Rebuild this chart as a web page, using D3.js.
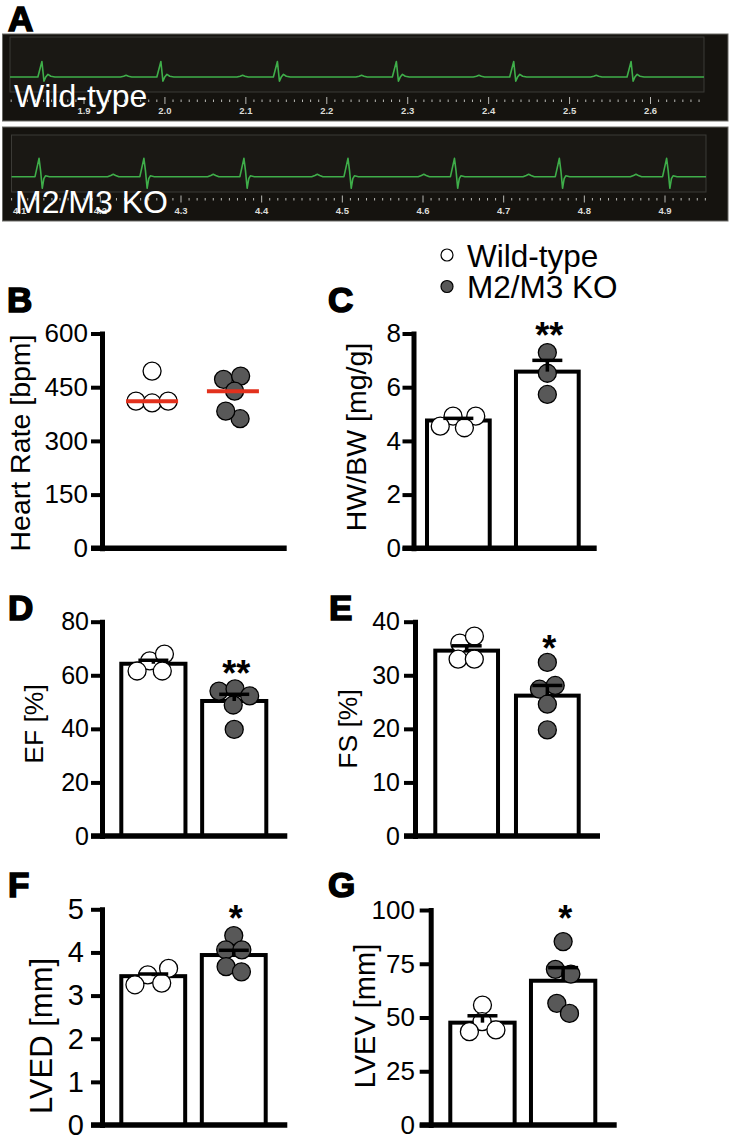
<!DOCTYPE html>
<html>
<head>
<meta charset="utf-8">
<script src="https://cdn.jsdelivr.net/npm/d3@7"></script>
<style>
body { margin: 0; background: #fff; }
svg { display: block; font-family: "Liberation Sans", Arial, Helvetica, sans-serif; }
</style>
</head>
<body>
<svg id="fig" width="731" height="1135"></svg>
<script>
// groups
var groups = ["Wild-type", "M2/M3 KO"];

// A: ECG traces, R-peak times (s)
var ecgBeatsWT = [1.848, 1.995, 2.139, 2.286, 2.431, 2.576];
var ecgBeatsKO = [4.124, 4.254, 4.378, 4.507, 4.639, 4.769, 4.902];
var ecgLabelsWT = ["1.9", "2.0", "2.1", "2.2", "2.3", "2.4", "2.5", "2.6"];
var ecgLabelsKO = ["4.1", "4.2", "4.3", "4.4", "4.5", "4.6", "4.7", "4.8", "4.9"];
// one beat: [time offset from R (s), amplitude relative to R]
var beatShapeWT = [[-0.050, 0], [-0.046, 0.05], [-0.043, 0.11], [-0.040, 0.05], [-0.036, 0],
  [-0.005, 0], [0, 1], [0.0025, -0.27], [0.005, 0.02], [0.0075, 0.17], [0.011, 0.05], [0.016, 0]];
var beatShapeKO = [[-0.045, 0], [-0.041, 0.07], [-0.038, 0.13], [-0.035, 0.07], [-0.031, 0],
  [-0.005, 0], [0, 1], [0.002, 0.3], [0.004, -0.63], [0.006, -0.1], [0.008, 0.05], [0.013, 0]];

// B: heart rate
var hrWT = [495, 411, 406, 411];
var hrKO = [472, 481, 439, 362, 383];
var hrTicks = [0, 150, 300, 450, 600];

// C: HW/BW
var hwbwWT = [4.92, 4.92, 4.49, 4.55];
var hwbwKO = [7.29, 6.52, 5.73];
var hwbwMean = [4.76, 6.58];
var hwbwSem = [0.08, 0.42];
var hwbwTicks = [0, 2, 4, 6, 8];

// D: EF
var efWT = [65.4, 67.9, 61.6, 61.6];
var efKO = [54.1, 54.9, 52.3, 48.9, 39.8];
var efMean = [64.3, 50.4];
var efSem = [1.3, 2.5];
var efTicks = [0, 20, 40, 60, 80];

// E: FS
var fsWT = [36.0, 37.3, 33.0, 33.0];
var fsKO = [32.4, 27.4, 28.1, 24.6, 19.8];
var fsMean = [34.6, 26.2];
var fsSem = [0.9, 1.9];
var fsTicks = [0, 10, 20, 30, 40];

// F: LVED
var lvedWT = [3.48, 3.63, 3.25, 3.29];
var lvedKO = [4.39, 4.06, 4.06, 3.67, 3.55];
var lvedMean = [3.45, 3.94];
var lvedSem = [0.05, 0.11];
var lvedTicks = [0, 1, 2, 3, 4, 5];

// G: LVEV
var lvevWT = [55.8, 48.1, 44.2, 43.4];
var lvevKO = [85.3, 72.4, 70.2, 56.6, 51.9];
var lvevMean = [47.6, 67.1];
var lvevSem = [3.2, 6.1];
var lvevTicks = [0, 25, 50, 75, 100];

var svg = d3.select("#fig");
var fillCol = ["#ffffff", "#585858"];
var ptR = 9;

// ---------- ECG strips ----------
function drawEcg(o) {
  var g = svg.append("g");
  g.append("rect")
    .attr("x", o.box[0]).attr("y", o.box[1])
    .attr("width", o.box[2] - o.box[0]).attr("height", o.box[3] - o.box[1])
    .attr("fill", "#15130f").attr("stroke", "#6a6a66").attr("stroke-width", 1);
  g.append("rect")
    .attr("x", o.inner[0]).attr("y", o.inner[1])
    .attr("width", o.inner[2] - o.inner[0]).attr("height", o.inner[3] - o.inner[1])
    .attr("fill", "#1a1814").attr("stroke", "#3b3a36").attr("stroke-width", 1);

  var x = d3.scaleLinear().domain(o.tRef).range(o.xRef);
  var y = d3.scaleLinear().domain([0, 1]).range([o.base, o.peak]);
  var t0 = x.invert(o.inner[0]), t1 = x.invert(o.inner[2]);

  var pts = [[t0, 0]];
  o.beats.forEach(function(b) {
    o.shape.forEach(function(s) { pts.push([b + s[0], s[1]]); });
  });
  pts.push([t1, 0]);
  pts = pts.filter(function(p) { return p[0] >= t0 && p[0] <= t1; })
    .sort(function(a, b) { return a[0] - b[0]; });

  g.append("path").datum(pts)
    .attr("d", d3.line().x(function(d) { return x(d[0]); }).y(function(d) { return y(d[1]); }))
    .attr("fill", "none").attr("stroke", "#3fae4a")
    .attr("stroke-width", 1.6).attr("stroke-linejoin", "round");

  // time axis ticks every 10 ms
  var ks = d3.range(Math.ceil(t0 * 100), Math.floor(t1 * 100) + 1);
  g.selectAll(".tk").data(ks).enter().append("line")
    .attr("x1", function(k) { return x(k / 100); })
    .attr("x2", function(k) { return x(k / 100); })
    .attr("y1", function(k) { return k % 10 === 0 ? o.tickY - 3.5 : o.tickY - 1; })
    .attr("y2", function(k) { return k % 10 === 0 ? o.tickY + 3.5 : o.tickY + 1.5; })
    .attr("stroke", "#b8b8b4").attr("stroke-width", 1);

  g.selectAll(".tl").data(o.labels).enter().append("text")
    .attr("x", function(d) { return x(+d); })
    .attr("y", o.labY)
    .attr("text-anchor", "middle")
    .attr("font-size", 9.5).attr("font-weight", "bold")
    .attr("fill", "#dcdcd8")
    .text(function(d) { return d; });

  g.append("text")
    .attr("x", o.nameX).attr("y", o.nameY)
    .attr("font-size", 32).attr("fill", "#fff")
    .text(o.name);
}

drawEcg({box: [2.5, 34, 728, 121], inner: [10, 37, 704, 92],
  tRef: [1.9, 2.6], xRef: [84, 650.5], base: 77, peak: 61.5,
  beats: ecgBeatsWT, shape: beatShapeWT, tickY: 100.5, labY: 113.5,
  labels: ecgLabelsWT, name: groups[0], nameX: 14, nameY: 107});

drawEcg({box: [2.5, 127, 728, 221], inner: [11.5, 135, 706, 192],
  tRef: [4.3, 4.9], xRef: [181, 665], base: 176.7, peak: 158.3,
  beats: ecgBeatsKO, shape: beatShapeKO, tickY: 199, labY: 213.5,
  labels: ecgLabelsKO, name: groups[1], nameX: 15, nameY: 213});

// ---------- dot / bar panels ----------
function dodge(vals, cx, y) {
  var nodes = vals.map(function(v) { return {v: v, x: cx, y: y(v), fy: y(v)}; });
  var sim = d3.forceSimulation(nodes)
    .force("x", d3.forceX(cx).strength(0.06))
    .force("collide", d3.forceCollide(ptR * 0.9))
    .stop();
  for (var i = 0; i < 300; i++) sim.tick();
  return nodes;
}

function drawPanel(p) {
  var g = svg.append("g");
  var y = d3.scaleLinear().domain([0, d3.max(p.ticks)]).range([p.bot, p.top]);
  var x = d3.scaleBand().domain(groups).range(p.band).paddingInner(p.pad).paddingOuter(0);
  var bw = x.bandwidth();

  // bars
  if (p.mean) {
    g.selectAll(".bar").data(groups).enter().append("rect")
      .attr("x", function(d) { return x(d) + 2; })
      .attr("width", bw - 4)
      .attr("y", function(d, i) { return y(p.mean[i]); })
      .attr("height", function(d, i) { return p.bot - y(p.mean[i]); })
      .attr("fill", "#fff").attr("stroke", "#000").attr("stroke-width", 4);
  }

  // points
  p.vals.forEach(function(vals, gi) {
    var cx = x(groups[gi]) + bw / 2;
    var nodes = dodge(vals, cx, y);
    g.selectAll(".pt" + gi).data(nodes).enter().append("circle")
      .attr("cx", function(d) { return d.x; })
      .attr("cy", function(d) { return d.y; })
      .attr("r", ptR)
      .attr("fill", fillCol[gi]).attr("stroke", "#000").attr("stroke-width", 1.3);
    if (p.median) {
      var m = d3.median(vals);
      g.append("line")
        .attr("x1", cx - 26).attr("x2", cx + 26)
        .attr("y1", y(m)).attr("y2", y(m))
        .attr("stroke", "#e2311d").attr("stroke-width", 4);
    }
  });

  // error bars (upper only)
  if (p.sem) {
    groups.forEach(function(gr, i) {
      var cx = x(gr) + bw / 2;
      g.append("line").attr("x1", cx).attr("x2", cx)
        .attr("y1", y(p.mean[i])).attr("y2", y(p.mean[i] + p.sem[i]))
        .attr("stroke", "#000").attr("stroke-width", 3.5);
      g.append("line").attr("x1", cx - 15).attr("x2", cx + 15)
        .attr("y1", y(p.mean[i] + p.sem[i])).attr("y2", y(p.mean[i] + p.sem[i]))
        .attr("stroke", "#000").attr("stroke-width", 3.5);
    });
  }

  // y axis
  var yAxis = g.append("g")
    .attr("transform", "translate(" + p.ax + ",0)")
    .call(d3.axisLeft(y).tickValues(p.ticks).tickFormat(d3.format("d"))
      .tickSize(11).tickSizeOuter(0).tickPadding(0));
  yAxis.select(".domain").attr("stroke-width", 5).attr("stroke-linecap", "square");
  yAxis.selectAll(".tick line").attr("stroke-width", 4);
  yAxis.selectAll(".tick text")
    .attr("x", p.tickX - p.ax)
    .attr("font-size", p.tickFont)
    .attr("font-family", "Liberation Sans, Arial, sans-serif")
    .attr("fill", "#000");

  // x axis line
  g.append("line")
    .attr("x1", p.ax - 11).attr("x2", p.xEnd)
    .attr("y1", y(0)).attr("y2", y(0))
    .attr("stroke", "#000").attr("stroke-width", 5.5);

  // axis title
  g.append("text")
    .attr("transform", "translate(" + p.labX + "," + p.labY + ") rotate(-90)")
    .attr("text-anchor", "middle")
    .attr("font-size", p.labFont)
    .text(p.label);

  // significance
  if (p.sig) {
    g.append("text")
      .attr("x", x(groups[1]) + bw / 2 + 2)
      .attr("y", y(p.sigLevel) + 0.58 * 36)
      .attr("text-anchor", "middle")
      .attr("font-size", 36).attr("font-weight", "bold")
      .text(p.sig);
  }
}

drawPanel({vals: [hrWT, hrKO], ticks: hrTicks, median: true, label: "Heart Rate [bpm]",
  ax: 102, top: 333.5, bot: 548.3, xEnd: 286.7, band: [118, 267], pad: 0.157,
  tickFont: 26, tickX: 88, labFont: 28.5, labX: 30, labY: 443});

drawPanel({vals: [hwbwWT, hwbwKO], ticks: hwbwTicks, mean: hwbwMean, sem: hwbwSem, label: "HW/BW [mg/g]",
  sig: "**", sigLevel: 8.22,
  ax: 413.5, top: 333.5, bot: 548.3, xEnd: 596.7, band: [425, 580.7], pad: 0.25,
  tickFont: 26, tickX: 401, labFont: 28.5, labX: 366, labY: 437});

drawPanel({vals: [efWT, efKO], ticks: efTicks, mean: efMean, sem: efSem, label: "EF [%]",
  sig: "**", sigLevel: 63.8,
  ax: 102, top: 621.7, bot: 836, xEnd: 287.3, band: [119.3, 268.3], pad: 0.157,
  tickFont: 25, tickX: 89, labFont: 26.5, labX: 43, labY: 724});

drawPanel({vals: [fsWT, fsKO], ticks: fsTicks, mean: fsMean, sem: fsSem, label: "FS [%]",
  sig: "*", sigLevel: 36.6,
  ax: 415, top: 621.7, bot: 836, xEnd: 600, band: [433.3, 580.7], pad: 0.173,
  tickFont: 25, tickX: 400, labFont: 26.5, labX: 357, labY: 729});

drawPanel({vals: [lvedWT, lvedKO], ticks: lvedTicks, mean: lvedMean, sem: lvedSem, label: "LVED [mm]",
  sig: "*", sigLevel: 4.98,
  ax: 102, top: 909.3, bot: 1125, xEnd: 287.3, band: [119.3, 267.7], pad: 0.157,
  tickFont: 29, tickX: 84, labFont: 31, labX: 52, labY: 1036});

drawPanel({vals: [lvevWT, lvevKO], ticks: lvevTicks, mean: lvevMean, sem: lvevSem, label: "LVEV [mm]",
  sig: "*", sigLevel: 100,
  ax: 430.7, top: 910, bot: 1125, xEnd: 616.7, band: [448.3, 597.3], pad: 0.153,
  tickFont: 26, tickX: 415, labFont: 29, labX: 375, labY: 1016});

// legend
var legend = svg.append("g").attr("transform", "translate(447,255)");
groups.forEach(function(gr, i) {
  legend.append("circle").attr("cx", 0).attr("cy", i * 31.5).attr("r", 6)
    .attr("fill", fillCol[i]).attr("stroke", "#000").attr("stroke-width", 1.2);
  legend.append("text").attr("x", 20).attr("y", i * 31 + 11.5)
    .attr("font-size", 31.5).text(gr);
});

// panel letters
var letters = [["A", 8, 31], ["B", 7, 312], ["C", 328, 312], ["D", 8, 620],
  ["E", 329, 620], ["F", 8, 897], ["G", 328, 897]];
svg.selectAll(".letter").data(letters).enter().append("text")
  .attr("x", function(d) { return d[1]; })
  .attr("y", function(d) { return d[2]; })
  .attr("font-size", 35).attr("font-weight", "bold")
  .attr("stroke", "#000").attr("stroke-width", 1.6)
  .text(function(d) { return d[0]; });
</script>
</body>
</html>
